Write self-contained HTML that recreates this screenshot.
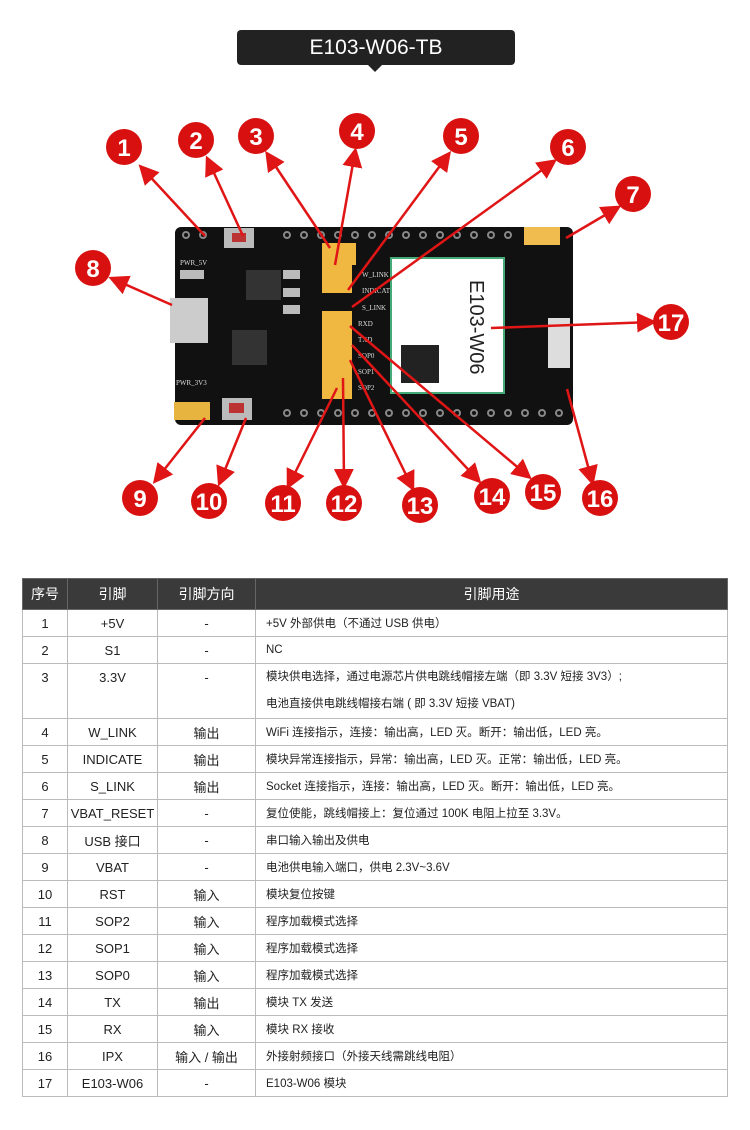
<!DOCTYPE html>
<html><head><meta charset="utf-8"><style>
body{margin:0;width:750px;height:1130px;background:#fff;font-family:"Liberation Sans","Noto Sans CJK SC",sans-serif;position:relative;overflow:hidden}
.title{position:absolute;left:237px;top:30px;width:278px;height:35px;background:#222;border-radius:4px;color:#fff;font-size:21px;text-align:center;line-height:35px}
.title:after{content:"";position:absolute;left:131px;top:35px;border:7px solid transparent;border-top:7px solid #222}
table{position:absolute;left:22px;top:578px;border-collapse:collapse;width:706px;font-size:13px;color:#222}
td,th{border:1px solid #bbb;height:26px;padding:0}
th{background:#3a3a3a;color:#fff;font-weight:normal;font-size:14px;height:30px;border-color:#666}
td{text-align:center}
td.d{text-align:left;padding-left:10px;font-size:11.5px}
</style></head><body>
<div class="title">E103-W06-TB</div>
<svg width="750" height="560" style="position:absolute;left:0;top:0">
<defs><marker id="a" markerWidth="8" markerHeight="8" refX="6" refY="4" orient="auto"><path d="M0,0 L8,4 L0,8 z" fill="#e01515"/></marker></defs>
<rect x="175" y="227" width="398" height="198" rx="6" fill="#111"/>
<g fill="none" stroke="#888" stroke-width="2">
<circle cx="186" cy="235" r="3"/><circle cx="203" cy="235" r="3"/>
<circle cx="287" cy="235" r="3"/><circle cx="304" cy="235" r="3"/><circle cx="321" cy="235" r="3"/><circle cx="338" cy="235" r="3"/><circle cx="355" cy="235" r="3"/><circle cx="372" cy="235" r="3"/><circle cx="389" cy="235" r="3"/><circle cx="406" cy="235" r="3"/><circle cx="423" cy="235" r="3"/><circle cx="440" cy="235" r="3"/><circle cx="457" cy="235" r="3"/><circle cx="474" cy="235" r="3"/><circle cx="491" cy="235" r="3"/><circle cx="508" cy="235" r="3"/>
<circle cx="287" cy="413" r="3"/><circle cx="304" cy="413" r="3"/><circle cx="321" cy="413" r="3"/><circle cx="338" cy="413" r="3"/><circle cx="355" cy="413" r="3"/><circle cx="372" cy="413" r="3"/><circle cx="389" cy="413" r="3"/><circle cx="406" cy="413" r="3"/><circle cx="423" cy="413" r="3"/><circle cx="440" cy="413" r="3"/><circle cx="457" cy="413" r="3"/><circle cx="474" cy="413" r="3"/><circle cx="491" cy="413" r="3"/><circle cx="508" cy="413" r="3"/><circle cx="525" cy="413" r="3"/><circle cx="542" cy="413" r="3"/><circle cx="559" cy="413" r="3"/>
</g>
<rect x="224" y="228" width="30" height="20" fill="#bbb"/><rect x="232" y="233" width="14" height="9" fill="#b33"/>
<rect x="222" y="398" width="30" height="22" fill="#bbb"/><rect x="229" y="403" width="15" height="10" fill="#b33"/>
<rect x="170" y="298" width="38" height="45" fill="#ccc"/>
<rect x="232" y="330" width="35" height="35" fill="#333"/>
<rect x="246" y="270" width="35" height="30" fill="#333"/>
<g fill="#bbb"><rect x="283" y="270" width="17" height="9"/><rect x="283" y="288" width="17" height="9"/><rect x="283" y="305" width="17" height="9"/><rect x="180" y="270" width="24" height="9"/></g>
<g fill="#ddd" font-size="7" font-family="Liberation Serif"><text x="180" y="265">PWR_5V</text><text x="176" y="385">PWR_3V3</text><text x="362" y="277">W_LINK</text><text x="362" y="293">INDICATE</text><text x="362" y="310">S_LINK</text><text x="358" y="326">RXD</text><text x="358" y="342">TXD</text><text x="358" y="358">SOP0</text><text x="358" y="374">SOP1</text><text x="358" y="390">SOP2</text></g>
<rect x="174" y="402" width="36" height="18" fill="#e8b440"/>
<rect x="524" y="227" width="36" height="18" fill="#f0bc50"/>
<g fill="#f0b840"><rect x="322" y="243" width="34" height="22"/><rect x="322" y="265" width="30" height="28"/><rect x="322" y="311" width="30" height="20"/><rect x="322" y="331" width="30" height="18"/><rect x="322" y="349" width="30" height="50"/></g>
<rect x="391" y="258" width="113" height="135" fill="#fff" stroke="#4a7" stroke-width="2"/>
<text x="470" y="280" transform="rotate(90 470 280)" font-size="20" font-family="Liberation Sans" fill="#222">E103-W06</text>
<rect x="401" y="345" width="38" height="38" fill="#222"/>
<rect x="548" y="318" width="22" height="50" fill="#ddd"/>
<g stroke="#e01515" stroke-width="2.5" marker-end="url(#a)">
<line x1="205" y1="236" x2="142" y2="168"/>
<line x1="243" y1="236" x2="208" y2="160"/>
<line x1="330" y1="248" x2="268" y2="155"/>
<line x1="335" y1="265" x2="355" y2="152"/>
<line x1="348" y1="290" x2="448" y2="155"/>
<line x1="352" y1="307" x2="553" y2="162"/>
<line x1="566" y1="238" x2="617" y2="208"/>
<line x1="172" y1="305" x2="113" y2="279"/>
<line x1="205" y1="418" x2="156" y2="480"/>
<line x1="246" y1="418" x2="220" y2="482"/>
<line x1="337" y1="388" x2="289" y2="485"/>
<line x1="343" y1="378" x2="344" y2="484"/>
<line x1="350" y1="360" x2="412" y2="487"/>
<line x1="352" y1="345" x2="478" y2="480"/>
<line x1="350" y1="326" x2="528" y2="476"/>
<line x1="567" y1="389" x2="592" y2="481"/>
<line x1="491" y1="328" x2="652" y2="322"/>
</g>
<g fill="#d81010"><circle cx="124" cy="147" r="18"/><circle cx="196" cy="140" r="18"/><circle cx="256" cy="136" r="18"/><circle cx="357" cy="131" r="18"/><circle cx="461" cy="136" r="18"/><circle cx="568" cy="147" r="18"/><circle cx="633" cy="194" r="18"/><circle cx="93" cy="268" r="18"/><circle cx="140" cy="498" r="18"/><circle cx="209" cy="501" r="18"/><circle cx="283" cy="503" r="18"/><circle cx="344" cy="503" r="18"/><circle cx="420" cy="505" r="18"/><circle cx="492" cy="496" r="18"/><circle cx="543" cy="492" r="18"/><circle cx="600" cy="498" r="18"/><circle cx="671" cy="322" r="18"/></g>
<g fill="#fff" font-size="24" font-weight="bold" font-family="Liberation Sans" text-anchor="middle">
<text x="124" y="156">1</text><text x="196" y="149">2</text><text x="256" y="145">3</text><text x="357" y="140">4</text><text x="461" y="145">5</text><text x="568" y="156">6</text><text x="633" y="203">7</text><text x="93" y="277">8</text><text x="140" y="507">9</text><text x="209" y="510">10</text><text x="283" y="512">11</text><text x="344" y="512">12</text><text x="420" y="514">13</text><text x="492" y="505">14</text><text x="543" y="501">15</text><text x="600" y="507">16</text><text x="671" y="331">17</text>
</g>
</svg>
<table>
<colgroup><col style="width:45px"><col style="width:90px"><col style="width:98px"><col></colgroup>
<tr><th>序号</th><th>引脚</th><th>引脚方向</th><th>引脚用途</th></tr>
<tr><td>1</td><td>+5V</td><td>-</td><td class="d">+5V 外部供电（不通过 USB 供电）</td></tr>
<tr><td>2</td><td>S1</td><td>-</td><td class="d">NC</td></tr>
<tr><td style="vertical-align:top;padding-top:6px;height:47px">3</td><td style="vertical-align:top;padding-top:6px">3.3V</td><td style="vertical-align:top;padding-top:6px">-</td><td class="d" style="line-height:27px">模块供电选择，通过电源芯片供电跳线帽接左端（即 3.3V 短接 3V3）;<br>电池直接供电跳线帽接右端 ( 即 3.3V 短接 VBAT)</td></tr>
<tr><td>4</td><td>W_LINK</td><td>输出</td><td class="d">WiFi 连接指示，连接：输出高，LED 灭。断开：输出低，LED 亮。</td></tr>
<tr><td>5</td><td>INDICATE</td><td>输出</td><td class="d">模块异常连接指示，异常：输出高，LED 灭。正常：输出低，LED 亮。</td></tr>
<tr><td>6</td><td>S_LINK</td><td>输出</td><td class="d">Socket 连接指示，连接：输出高，LED 灭。断开：输出低，LED 亮。</td></tr>
<tr><td>7</td><td>VBAT_RESET</td><td>-</td><td class="d">复位使能，跳线帽接上：复位通过 100K 电阻上拉至 3.3V。</td></tr>
<tr><td>8</td><td>USB 接口</td><td>-</td><td class="d">串口输入输出及供电</td></tr>
<tr><td>9</td><td>VBAT</td><td>-</td><td class="d">电池供电输入端口，供电 2.3V~3.6V</td></tr>
<tr><td>10</td><td>RST</td><td>输入</td><td class="d">模块复位按键</td></tr>
<tr><td>11</td><td>SOP2</td><td>输入</td><td class="d">程序加载模式选择</td></tr>
<tr><td>12</td><td>SOP1</td><td>输入</td><td class="d">程序加载模式选择</td></tr>
<tr><td>13</td><td>SOP0</td><td>输入</td><td class="d">程序加载模式选择</td></tr>
<tr><td>14</td><td>TX</td><td>输出</td><td class="d">模块 TX 发送</td></tr>
<tr><td>15</td><td>RX</td><td>输入</td><td class="d">模块 RX 接收</td></tr>
<tr><td>16</td><td>IPX</td><td>输入 / 输出</td><td class="d">外接射频接口（外接天线需跳线电阻）</td></tr>
<tr><td>17</td><td>E103-W06</td><td>-</td><td class="d">E103-W06 模块</td></tr>
</table>
</body></html>
